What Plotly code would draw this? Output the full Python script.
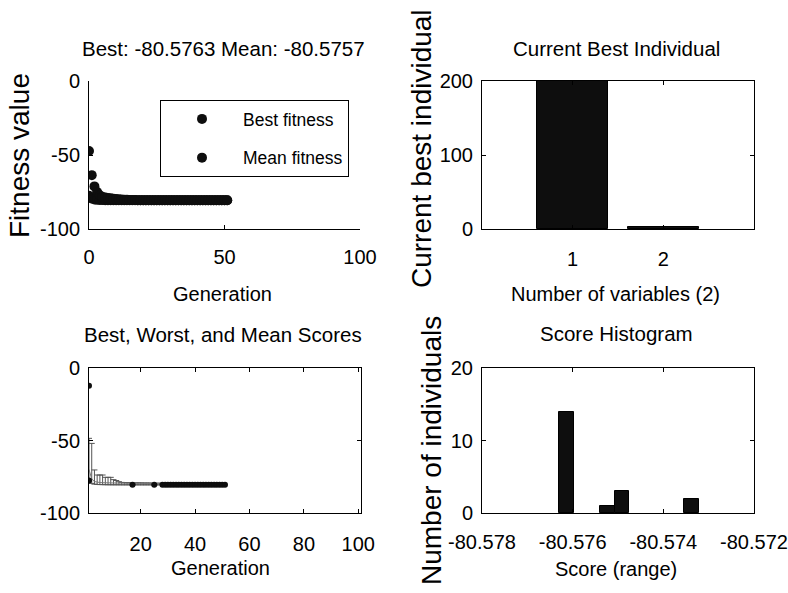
import plotly.graph_objects as go

# ---------------- data ----------------
# Fitness history per generation (top-left panel)
generations = list(range(0, 52))
best_fitness = [
    -77.6, -79.4, -80.1, -80.3, -80.42, -80.48, -80.52, -80.54, -80.55, -80.56,
    -80.565, -80.568, -80.570, -80.571, -80.572, -80.573, -80.5735, -80.574, -80.5745, -80.575,
    -80.5752, -80.5755, -80.5757, -80.5758, -80.5759, -80.5760, -80.5761, -80.5761, -80.5762, -80.5762,
    -80.5762, -80.5762, -80.5762, -80.5762, -80.5763, -80.5763, -80.5763, -80.5763, -80.5763, -80.5763,
    -80.5763, -80.5763, -80.5763, -80.5763, -80.5763, -80.5763, -80.5763, -80.5763, -80.5763, -80.5763,
    -80.5763, -80.5763,
]
mean_fitness = [
    -47.3, -63.6, -71.2, -75.0, -77.2, -78.3, -78.8, -79.1, -79.3, -79.5,
    -79.7, -79.9, -80.1, -80.2, -80.3, -80.38, -80.43, -80.47, -80.50, -80.52,
    -80.54, -80.55, -80.56, -80.565, -80.568, -80.570, -80.571, -80.572, -80.573, -80.5735,
    -80.574, -80.5742, -80.5745, -80.5747, -80.5749, -80.5750, -80.5751, -80.5752, -80.5752, -80.5753,
    -80.5753, -80.5754, -80.5754, -80.5755, -80.5755, -80.5756, -80.5756, -80.5756, -80.5757, -80.5757,
    -80.5757, -80.5757,
]

# Best / worst / mean score range per generation (bottom-left panel)
range_gen = list(range(1, 28))
range_mean = [
    -70.0, -76.5, -78.3, -78.8, -79.0, -79.1, -79.2, -79.2, -79.3, -79.3,
    -79.4, -79.4, -79.4, -79.5, -79.5, -79.5, -80.58, -79.5, -79.5, -79.6,
    -79.6, -79.6, -79.6, -79.6, -80.58, -79.7, -79.7,
]
range_worst = [
    -48.5, -52.0, -70.3, -73.8, -73.8, -73.8, -75.4, -75.4, -75.4, -77.0,
    -77.6, -78.4, -78.9, -79.0, -79.1, -79.1, -80.58, -79.2, -79.2, -79.2,
    -79.3, -79.3, -79.3, -79.4, -80.58, -79.4, -79.5,
]
range_best = [
    -78.0, -79.6, -80.1, -80.3, -80.4, -80.45, -80.5, -80.52, -80.54, -80.55,
    -80.56, -80.56, -80.57, -80.57, -80.57, -80.57, -80.58, -80.58, -80.58, -80.58,
    -80.58, -80.58, -80.58, -80.58, -80.58, -80.58, -80.58,
]
dot_gen = [1, 1, 17, 25] + list(range(28, 52))
dot_score = [-12.3, -77.5, -80.58, -80.58] + [-80.58] * 24

# Current best individual (top-right panel)
variables = [1, 2]
best_individual = [200, 3]

# Score histogram (bottom-right panel)
score_bins = [-80.57614, -80.57523, -80.57491, -80.57338]
score_counts = [14, 1, 3, 2]
bin_width = 0.000323

# Tick labels
fit_ticks = [-100, -50, 0]
fit_labels = ["-100", "-50", "0"]
score_ticks = [-80.578, -80.576, -80.574, -80.572]
score_labels = ["-80.578", "-80.576", "-80.574", "-80.572"]

# ---------------- styling helpers ----------------
W, H = 788, 593
FONT = "Liberation Sans, Arial, sans-serif"
INK = "#0e0e0e"
TICK_SIZE = 20


def fx(p):
    return p / W


def fy(p):
    return 1 - p / H


def axis_style(mirror):
    return dict(
        showline=True, linecolor="black", linewidth=1,
        mirror="allticks" if mirror else False,
        ticks="inside", ticklen=4, tickwidth=1, tickcolor="black",
        showgrid=False, zeroline=False, automargin=False,
        tickfont=dict(family=FONT, size=TICK_SIZE, color="black"),
    )


fig = go.Figure()

# top-left: fitness history
fig.add_trace(go.Scatter(
    x=generations, y=best_fitness, mode="markers", name="Best fitness",
    legendgroup="best", marker=dict(color=INK, size=10),
    xaxis="x", yaxis="y",
))
fig.add_trace(go.Scatter(
    x=generations, y=mean_fitness, mode="markers", name="Mean fitness",
    legendgroup="mean", marker=dict(color=INK, size=10),
    xaxis="x", yaxis="y",
))

# top-right: current best individual
fig.add_trace(go.Bar(
    x=variables, y=best_individual, width=0.78,
    marker=dict(color=INK, line=dict(color="black", width=1)),
    showlegend=False, xaxis="x2", yaxis="y2",
))

# bottom-left: score range with error bars
fig.add_trace(go.Scatter(
    x=range_gen, y=range_mean, mode="lines",
    line=dict(color="#777777", width=1),
    error_y=dict(
        type="data", symmetric=False,
        array=[w - m for w, m in zip(range_worst, range_mean)],
        arrayminus=[m - b for m, b in zip(range_mean, range_best)],
        color="#555555", thickness=1, width=3,
    ),
    showlegend=False, xaxis="x3", yaxis="y3",
))
fig.add_trace(go.Scatter(
    x=dot_gen, y=dot_score, mode="markers",
    marker=dict(color=INK, size=6),
    showlegend=False, xaxis="x3", yaxis="y3",
))

# bottom-right: score histogram
fig.add_trace(go.Bar(
    x=score_bins, y=score_counts, width=[bin_width] * len(score_bins),
    marker=dict(color=INK, line=dict(color="black", width=1)),
    showlegend=False, xaxis="x4", yaxis="y4",
))

layout_axes = dict(
    xaxis=dict(axis_style(False), domain=[fx(89), fx(360)], range=[0, 100],
               tickvals=[0, 50, 100], anchor="y", ticklabelstandoff=10),
    yaxis=dict(axis_style(False), domain=[fy(229), fy(81)], range=[-100, 0],
               tickvals=fit_ticks, ticktext=fit_labels, anchor="x", ticklabelstandoff=4),
    xaxis2=dict(axis_style(True), domain=[fx(482), fx(754)], range=[0, 3],
                tickvals=[1, 2], anchor="y2", ticklabelstandoff=12),
    yaxis2=dict(axis_style(True), domain=[fy(229), fy(81)], range=[0, 200],
                tickvals=[0, 100, 200], anchor="x2", ticklabelstandoff=4),
    xaxis3=dict(axis_style(True), domain=[fx(89), fx(361)], range=[1, 101],
                tickvals=[20, 40, 60, 80, 100], anchor="y3", ticklabelstandoff=13),
    yaxis3=dict(axis_style(True), domain=[fy(513), fy(368)], range=[-100, 0],
                tickvals=fit_ticks, ticktext=fit_labels, anchor="x3", ticklabelstandoff=4),
    xaxis4=dict(axis_style(True), domain=[fx(482), fx(754)], range=[-80.578, -80.572],
                tickvals=score_ticks, ticktext=score_labels,
                anchor="y4", ticklabelstandoff=11),
    yaxis4=dict(axis_style(True), domain=[fy(513), fy(368)], range=[0, 20],
                tickvals=[0, 10, 20], anchor="x4", ticklabelstandoff=4),
)


def label(text, x, y, size=20, angle=0):
    return dict(
        text=text, x=fx(x), y=fy(y), xref="paper", yref="paper",
        xanchor="center", yanchor="middle", showarrow=False, textangle=angle,
        font=dict(family=FONT, size=size, color="black"),
    )


annotations = [
    label("Best: -80.5763 Mean: -80.5757", 223, 48, size=20.5),
    label("Current Best Individual", 616, 48, size=20.5),
    label("Best, Worst, and Mean Scores", 223, 334, size=20.5),
    label("Score Histogram", 616, 333, size=20.5),
    label("Generation", 222, 294),
    label("Number of variables (2)", 615, 294),
    label("Generation", 221, 568),
    label("Score (range)", 616, 569),
    label("Fitness value", 19, 156, size=28, angle=-90),
    label("Current best individual", 421, 149, size=28, angle=-90),
    label("Number of individuals", 431, 450, size=28, angle=-90),
]

fig.update_layout(
    width=W, height=H,
    margin=dict(l=0, r=0, t=0, b=0, autoexpand=False),
    paper_bgcolor="white", plot_bgcolor="white",
    bargap=0,
    showlegend=True,
    legend=dict(
        x=fx(160), y=fy(100), xanchor="left", yanchor="top",
        bordercolor="black", borderwidth=1, bgcolor="white",
        font=dict(family=FONT, size=17.5, color="black"),
        itemwidth=72, tracegroupgap=13,
    ),
    annotations=annotations,
    **layout_axes,
)

fig.write_html("out.html")
